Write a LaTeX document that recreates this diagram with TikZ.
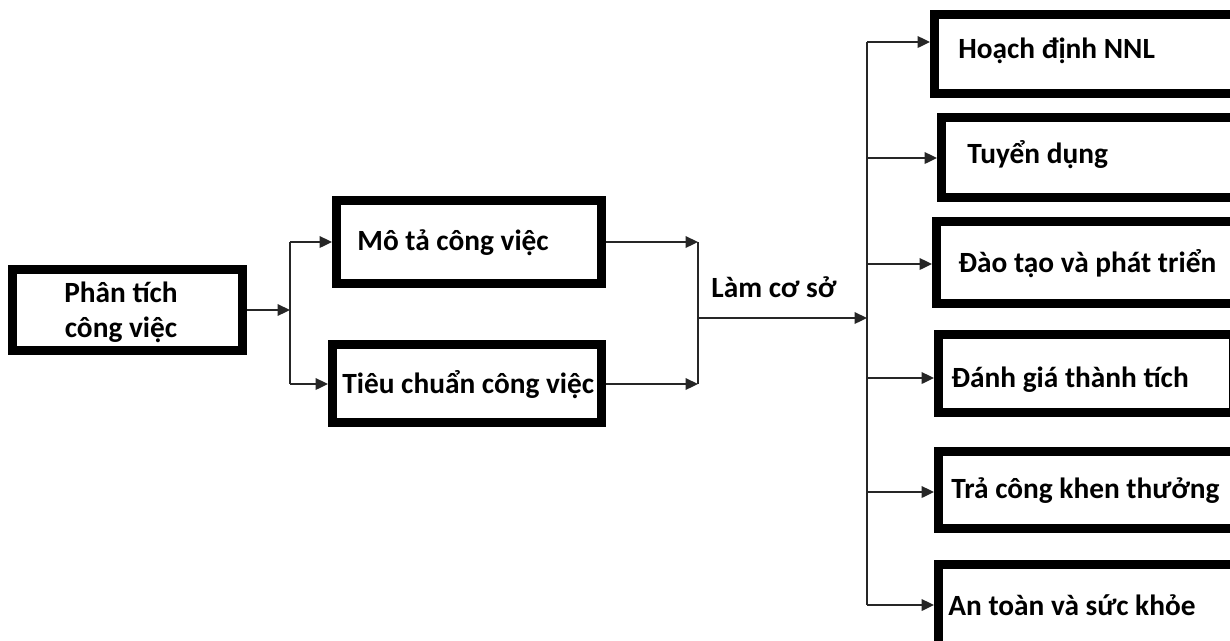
\documentclass[tikz,border=0pt]{standalone}
\usepackage{fontspec}
\setmainfont{Carlito}
\usetikzlibrary{arrows.meta}
\begin{document}
\begin{tikzpicture}[x=0.02cm,y=-0.02cm,
  txt/.style={inner sep=0pt,font=\bfseries\fontsize{16.7}{19.9}\selectfont},
  box/.style={draw=black,line width=0.18cm,rectangle,inner sep=0pt,fill=white},
  lbl/.style={txt,anchor=base west},
  conn/.style={line width=0.045cm,draw=black!85},
  arr/.style={conn,-{Triangle[length=0.25cm,width=0.23cm]}}]
\useasboundingbox (0,0) rectangle (1230,640);
\clip (0,0) rectangle (1230,640);
% boxes
\node[box,minimum width=4.6cm,minimum height=1.62cm] (pt) at (127.5,310) {};
\node[box,minimum width=5.3cm,minimum height=1.66cm] (mt) at (469,242) {};
\node[box,minimum width=5.38cm,minimum height=1.56cm] (tc) at (467,383.5) {};
\node[box,minimum width=6.42cm,minimum height=1.58cm] (hd) at (1095,54) {};
\node[box,minimum width=6.28cm,minimum height=1.6cm] (td) at (1098.5,157.5) {};
\node[box,minimum width=6.38cm,minimum height=1.64cm] (dt) at (1096,262.5) {};
\node[box,minimum width=5.9cm,minimum height=1.56cm] (dg) at (1086,373.5) {};
\node[box,minimum width=6.34cm,minimum height=1.54cm] (tr) at (1097,490) {};
\node[box,minimum width=6.34cm,minimum height=1.82cm] (at) at (1097,610) {};
% texts
\node[txt,align=center] (tpt) at (121,312) {Phân tích\\công việc};
\node[lbl] (tmt) at (357,250) {Mô tả công việc};
\node[lbl] (ttc) at (342,393) {Tiêu chuẩn công việc};
\node[lbl] (tlam) at (711,297) {Làm cơ sở};
\node[lbl] (thd) at (958,58) {Hoạch định NNL};
\node[lbl] (ttd) at (967,163) {Tuyển dụng};
\node[lbl] (tdt) at (958,272) {Đào tạo và phát triển};
\node[lbl] (tdg) at (951,387) {Đánh giá thành tích};
\node[lbl] (ttr) at (951,498) {Trả công khen thưởng};
\node[lbl] (tat) at (948,615) {An toàn và sức khỏe};
% junctions
\coordinate (j1) at (290,310);
\coordinate (j1t) at (290,242);
\coordinate (j1b) at (290,384);
\coordinate (j2t) at (698,242);
\coordinate (j2b) at (698,384);
\coordinate (j2m) at (698,318);
\coordinate (j3) at (867,318);
\coordinate (b1) at (867,42);
\coordinate (b2) at (867,158);
\coordinate (b3) at (867,264);
\coordinate (b4) at (867,378);
\coordinate (b5) at (867,492);
\coordinate (b6) at (867,605);
% connectors
\draw[arr] (pt.east) -- (j1);
\draw[conn] (j1t) -- (j1b);
\draw[arr] (j1t) -- (mt.west);
\draw[arr] (j1b) -- (j1b -| tc.west);
\draw[arr] (mt.east) -- (j2t);
\draw[arr] (j2b -| tc.east) -- (j2b);
\draw[conn] (j2t) -- (j2b);
\draw[arr] (j2m) -- (j3);
\draw[conn] (b1) -- (b6);
\draw[arr] (b1) -- (b1 -| hd.west);
\draw[arr] (b2) -- (b2 -| td.west);
\draw[arr] (b3) -- (b3 -| dt.west);
\draw[arr] (b4) -- (b4 -| dg.west);
\draw[arr] (b5) -- (b5 -| tr.west);
\draw[arr] (b6) -- (b6 -| at.west);
\end{tikzpicture}
\end{document}
